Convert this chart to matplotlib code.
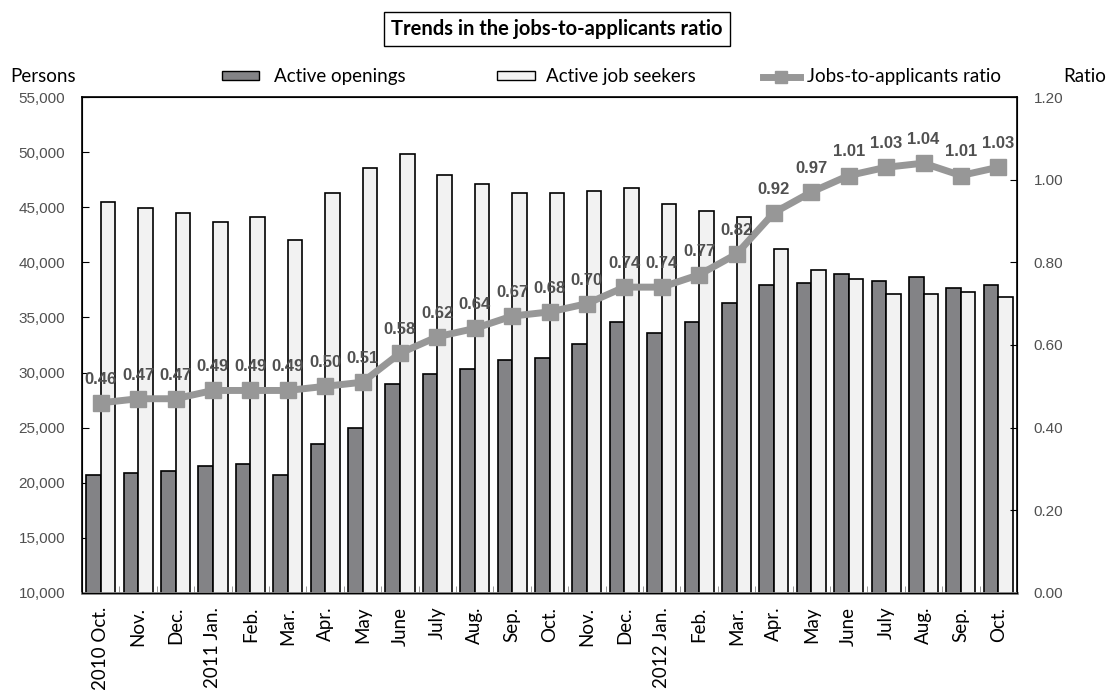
import numpy as np
import matplotlib.pyplot as plt
from matplotlib.patches import Patch
from matplotlib.lines import Line2D

months = ["2010 Oct.", "Nov.", "Dec.", "2011 Jan.", "Feb.", "Mar.", "Apr.", "May",
          "June", "July", "Aug.", "Sep.", "Oct.", "Nov.", "Dec.", "2012 Jan.",
          "Feb.", "Mar.", "Apr.", "May", "June", "July", "Aug.", "Sep.", "Oct."]

openings = [20700, 20900, 21100, 21500, 21700, 20700, 23500, 25000, 29000, 29900,
            30300, 31100, 31300, 32600, 34600, 33600, 34600, 36300, 37900, 38100,
            38900, 38300, 38700, 37700, 37900]

seekers = [45500, 44900, 44500, 43700, 44100, 42000, 46300, 48600, 49800, 47900,
           47100, 46300, 46300, 46500, 46700, 45300, 44700, 44100, 41200, 39300,
           38500, 37100, 37100, 37300, 36900]

ratio = [0.46, 0.47, 0.47, 0.49, 0.49, 0.49, 0.50, 0.51, 0.58, 0.62, 0.64, 0.67,
         0.68, 0.70, 0.74, 0.74, 0.77, 0.82, 0.92, 0.97, 1.01, 1.03, 1.04, 1.01, 1.03]

dark = "#838386"
light = "#f2f2f2"
line_gray = "#979797"
text_font = ["Lato", "DejaVu Sans"]
num_font = ["Liberation Sans", "DejaVu Sans"]

fig = plt.figure(figsize=(11.07, 6.9), dpi=100)
ax = fig.add_axes([0.0741, 0.1406, 0.8446, 0.7188])

x = np.arange(len(months))
w = 0.39
ax.bar(x - w / 2, openings, w, color=dark, edgecolor="black", linewidth=1.2, zorder=2)
ax.bar(x + w / 2, seekers, w, color=light, edgecolor="black", linewidth=1.2, zorder=2)

ax.set_xlim(-0.5, len(months) - 0.5)
ax.set_ylim(10000, 55000)
ax.set_yticks(np.arange(10000, 55001, 5000))
ax.set_yticklabels([f"{v:,}" for v in range(10000, 55001, 5000)],
                   family=num_font, fontsize=11, color="#505050")
ax.tick_params(axis="y", direction="in", length=5, pad=12)

ax.set_xticks(x)
ax.set_xticklabels(months, rotation=90, family=text_font, fontsize=13.5)
ax.tick_params(axis="x", length=0, pad=10)
ax.set_xticks(np.arange(-0.5, len(months), 1), minor=True)
ax.tick_params(axis="x", which="minor", direction="in", length=5, color="#888888")

for s in ["left", "top", "right"]:
    ax.spines[s].set_linewidth(1.2)
ax.spines["bottom"].set_color("#888888")
ax.spines["bottom"].set_linewidth(2)

ax2 = ax.twinx()
ax2.set_ylim(0, 1.2)
ax2.set_yticks(np.arange(0, 1.21, 0.2))
ax2.set_yticklabels([f"{v:.2f}" for v in np.arange(0, 1.21, 0.2)],
                    family=num_font, fontsize=11, color="#505050")
ax2.tick_params(axis="y", direction="in", length=5, pad=12)
ax2.plot(x, ratio, color=line_gray, linewidth=5, marker="s", markersize=11, zorder=3)
for xi, r in zip(x, ratio):
    ax2.annotate(f"{r:.2f}", (xi, r), xytext=(0, 17), textcoords="offset points",
                 ha="center", va="center", fontsize=12, fontweight="bold",
                 family=num_font, color="#505050")

# title in a box
fig.text(0.503, 0.958, "Trends in the jobs-to-applicants ratio", ha="center", va="center",
         fontsize=14.5, fontweight="bold", family=text_font,
         bbox=dict(boxstyle="square,pad=0.35", facecolor="white", edgecolor="black", linewidth=1))

fig.text(0.009, 0.889, "Persons", ha="left", va="center", fontsize=13.5, family=text_font)
fig.text(0.999, 0.889, "Ratio", ha="right", va="center", fontsize=13.5, family=text_font)

# legend entries placed one by one
entries = [
    (Patch(facecolor=dark, edgecolor="black"), "Active openings", 0.2005, 0.8),
    (Patch(facecolor=light, edgecolor="black"), "Active job seekers", 0.449, 0.6),
    (Line2D([], [], color=line_gray, linewidth=5, marker="s", markersize=8),
     "Jobs-to-applicants ratio", 0.689, 0.35),
]
for h, lab, xpos, pad in entries:
    fig.legend([h], [lab], loc="center left", bbox_to_anchor=(xpos, 0.889), frameon=False,
               prop={"family": text_font, "size": 13.5}, handlelength=2.0, handleheight=0.35,
               handletextpad=pad, borderpad=0, borderaxespad=0)

fig.savefig("out.png", dpi=100)
